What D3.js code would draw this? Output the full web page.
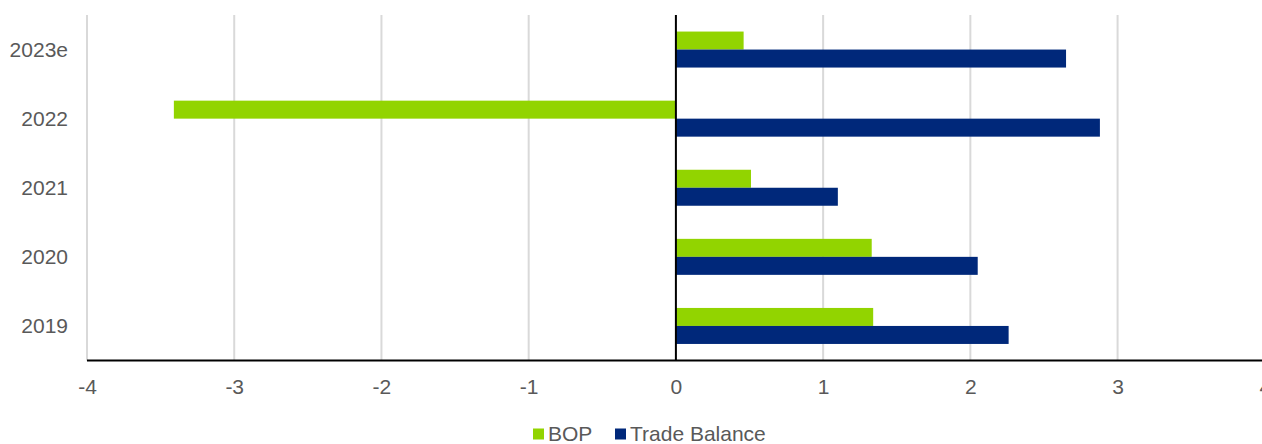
<!DOCTYPE html>
<html>
<head>
<meta charset="utf-8">
<script src="https://cdn.jsdelivr.net/npm/d3@7"></script>
<style>
  html, body { margin: 0; padding: 0; background: #fff; }
  svg { display: block; }
  text { font-family: "Liberation Sans", Arial, sans-serif; fill: #595959; }
</style>
</head>
<body>
<svg id="chart" width="1262" height="444"></svg>
<script>
const categories = ["2023e", "2022", "2021", "2020", "2019"];
const seriesNames = ["BOP", "Trade Balance"];
const bopValues = [0.46, -3.41, 0.51, 1.33, 1.34];
const tradeBalanceValues = [2.65, 2.88, 1.10, 2.05, 2.26];
const xTicks = [-4, -3, -2, -1, 0, 1, 2, 3, 4];
const colors = ["#92d400", "#00287a"];

const data = categories.map((c, i) => ({
  category: c,
  values: [bopValues[i], tradeBalanceValues[i]]
}));

const svg = d3.select("#chart");
const W = 1262, H = 444;
const mLeft = 87, mRight = 1264.8, mTop = 15, mBottom = 360.5;
const FS = "21px";

const x = d3.scaleLinear().domain([-4, 4]).range([mLeft, mRight]);
const y0 = d3.scaleBand().domain(categories).range([mTop, mBottom]).paddingInner(0.479).paddingOuter(0.2395);
const y1 = d3.scaleBand().domain(seriesNames).range([0, y0.bandwidth()]);

// gridlines
svg.append("g").selectAll("line").data(xTicks.filter(t => t !== 0)).join("line")
  .attr("x1", d => x(d)).attr("x2", d => x(d))
  .attr("y1", mTop).attr("y2", mBottom)
  .attr("stroke", "#d9d9d9").attr("stroke-width", 2);

// bars
const groups = svg.append("g").selectAll("g").data(data).join("g")
  .attr("transform", d => `translate(0,${y0(d.category)})`);
groups.selectAll("rect").data(d => d.values.map((v, j) => ({ v, s: seriesNames[j], j }))).join("rect")
  .attr("x", d => Math.min(x(0), x(d.v)))
  .attr("width", d => Math.abs(x(d.v) - x(0)))
  .attr("y", d => y1(d.s))
  .attr("height", y1.bandwidth())
  .attr("fill", d => colors[d.j]);

// zero line
svg.append("line")
  .attr("x1", x(0)).attr("x2", x(0)).attr("y1", mTop).attr("y2", mBottom)
  .attr("stroke", "#000").attr("stroke-width", 2);

// x axis line
svg.append("line")
  .attr("x1", mLeft).attr("x2", W).attr("y1", mBottom).attr("y2", mBottom)
  .attr("stroke", "#000").attr("stroke-width", 2);

// x tick labels
const xAxis = d3.axisBottom(x).tickValues(xTicks).tickSize(0).tickPadding(0).tickFormat(d3.format("d"));
const gx = svg.append("g").attr("transform", `translate(0,${mBottom})`).call(xAxis);
gx.select(".domain").remove();
gx.selectAll("text")
  .attr("y", 26).attr("dy", "0.35em")
  .style("font-size", FS).style("fill", "#595959")
  .style("font-family", "'Liberation Sans', Arial, sans-serif")
  .text(d => d < 0 ? "-" + Math.abs(d) : String(d));

// y labels
const yAxis = d3.axisLeft(y0).tickSize(0).tickPadding(0);
const gy = svg.append("g").attr("transform", `translate(68,0)`).call(yAxis);
gy.select(".domain").remove();
gy.selectAll("text")
  .attr("x", 0).attr("dy", "0.35em")
  .style("font-size", FS).style("fill", "#595959")
  .style("font-family", "'Liberation Sans', Arial, sans-serif");

// legend
const legend = svg.append("g").attr("transform", "translate(533,434)");
const legendX = [0, 82];
seriesNames.forEach((s, i) => {
  const g = legend.append("g").attr("transform", `translate(${legendX[i]},0)`);
  g.append("rect").attr("x", 0).attr("y", -5.5).attr("width", 11).attr("height", 11).attr("fill", colors[i]);
  g.append("text").attr("x", 15).attr("y", 0).attr("dy", "0.35em")
    .style("font-size", FS).text(s);
});
</script>
</body>
</html>
